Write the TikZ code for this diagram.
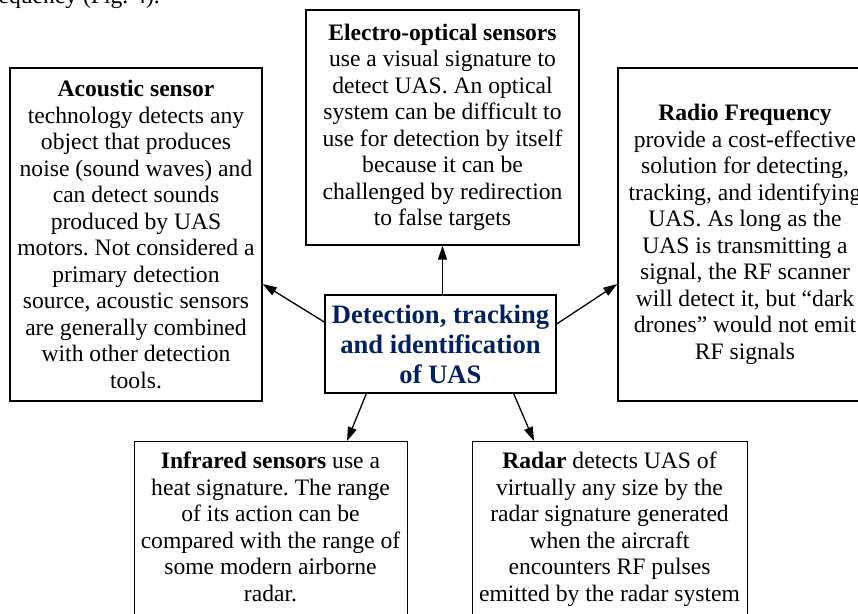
\documentclass[tikz,border=0pt]{standalone}
\usepackage{fontspec}
\setmainfont{Liberation Serif}
\usetikzlibrary{arrows.meta}
\definecolor{navy}{RGB}{0,32,96}
\frenchspacing
\begin{document}
\begin{tikzpicture}[x=1pt,y=-1pt,
  bodyfont/.style={font=\fontsize{23.6}{26.5}\selectfont},
  box/.style={draw, line width=1.4pt, inner sep=0pt, align=center, bodyfont},
  txt/.style={inner sep=0pt, align=center, bodyfont},
  arr/.style={line width=1.3pt, -{Triangle[length=14pt,width=9pt]}}]
\useasboundingbox (0,0) rectangle (858,613);
\clip (0,0) rectangle (858,613);

\node[txt, anchor=base east] (cap) at (160,3) {equency (Fig. 4).};

\node[box, minimum width=252pt, minimum height=333pt] (ac) at (136,234.5)
  {\textbf{Acoustic sensor}\\ technology detects any\\ object that produces\\ noise (sound waves) and\\ can detect sounds\\ produced by UAS\\ motors. Not considered a\\ primary detection\\ source, acoustic sensors\\ are generally combined\\ with other detection\\ tools.};

\node[box, minimum width=273pt, minimum height=235pt] (eo) at (442.5,127.5)
  {\textbf{Electro-optical sensors}\\ use a visual signature to\\ detect UAS. An optical\\ system can be difficult to\\ use for detection by itself\\ because it can be\\ challenged by redirection\\ to false targets};

\node[box, minimum width=254pt, minimum height=333pt] (rf) at (745,234.5)
  {\textbf{Radio Frequency}\\ provide a cost-effective\\ solution for detecting,\\ tracking, and identifying\\ UAS. As long as the\\ UAS is transmitting a\\ signal, the RF scanner\\ will detect it, but “dark\\ drones” would not emit\\ RF signals};

\node[box, minimum width=231pt, minimum height=98pt, text=navy,
      font=\fontsize{26.6}{30}\selectfont\bfseries] (c) at (440.5,344)
  {Detection, tracking\\ and identification\\ of UAS};

\node[box, anchor=north west, minimum width=273pt, minimum height=250pt] (ir) at (134,441) {};
\node[txt, anchor=north] (irt) at (270.5,452)
  {\textbf{Infrared sensors} use a\\ heat signature. The range\\ of its action can be\\ compared with the range of\\ some modern airborne\\ radar.};

\node[box, anchor=north west, minimum width=275pt, minimum height=250pt] (rd) at (472,441) {};
\node[txt, anchor=north] (rdt) at (609.5,452)
  {\textbf{Radar} detects UAS of\\ virtually any size by the\\ radar signature generated\\ when the aircraft\\ encounters RF pulses\\ emitted by the radar system};

\draw[arr] (eo.south |- c.north) -- (eo.south);
\draw[arr] ([yshift=22pt]c.west) -- ([yshift=-49.5pt]ac.east);
\draw[arr] ([yshift=20pt]c.east) -- ([yshift=-49.5pt]rf.west);
\draw[arr] ([xshift=42pt]c.south west) -- ([xshift=213pt]ir.north west);
\draw[arr] ([xshift=-43pt]c.south east) -- ([xshift=62pt]rd.north west);
\end{tikzpicture}
\end{document}
